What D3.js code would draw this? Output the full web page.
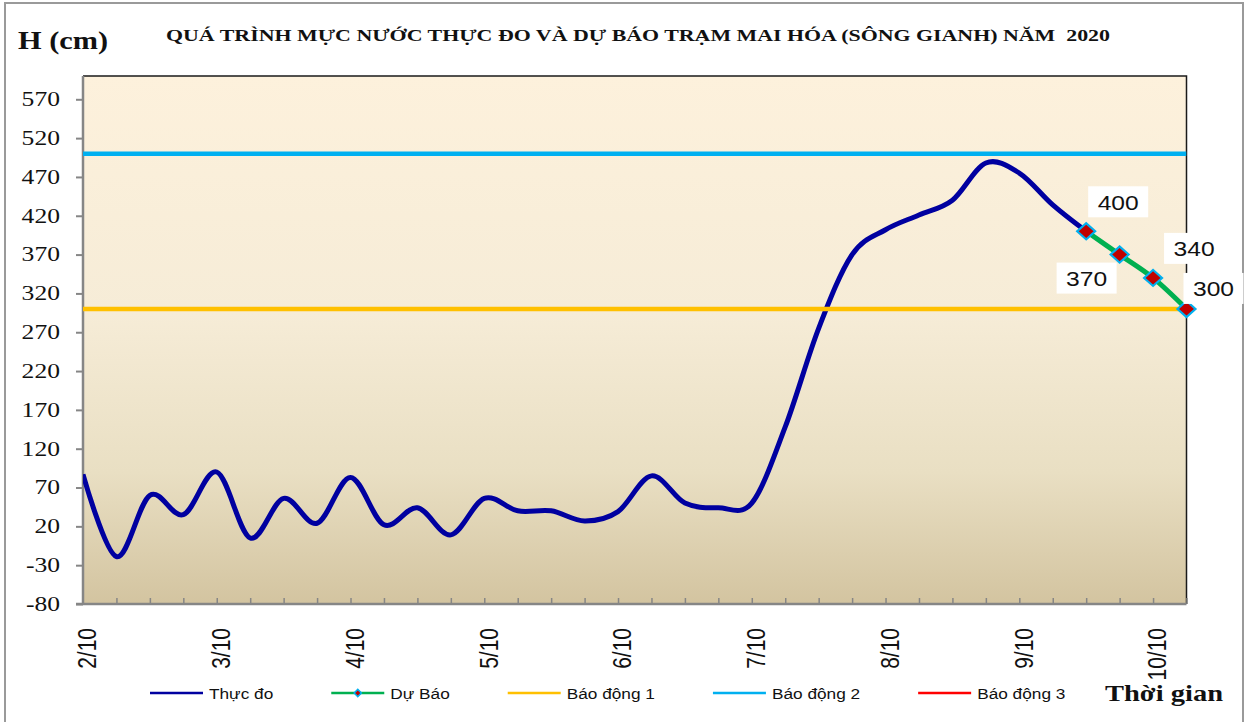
<!DOCTYPE html>
<html>
<head>
<meta charset="utf-8">
<script src="https://cdn.jsdelivr.net/npm/d3@7"></script>
<style>
  body { margin: 0; background: #fff; }
  svg { display: block; }
</style>
</head>
<body>
<div id="app"></div>
<script>
// water level at Mai Hoa station, one reading every 6 hours from 2/10
const dayLabels = ["2/10", "3/10", "4/10", "5/10", "6/10", "7/10", "8/10", "9/10", "10/10"];
const observed = [87, -19, 60, 35, 90, 5, 56, 24, 83, 22, 44, 9, 56, 40, 40, 27,
  39, 85, 50, 44, 50, 148, 275, 370, 402, 421, 440, 488, 475, 434, 400];
const forecast = [400, 370, 340, 300];
const alarmLevels = [300, 500, 650];
const alarmNames = ["Báo động 1", "Báo động 2", "Báo động 3"];
const seriesNames = ["Thực đo", "Dự Báo"];
const yTicks = [-80, -30, 20, 70, 120, 170, 220, 270, 320, 370, 420, 470, 520, 570];
const yDomain = [-80, 600];

const forecastStart = observed.length - 1;
const nPoints = forecastStart + forecast.length;

// 2. dimensions
const dimensions = {
  width: 1253,
  height: 722,
  margin: { top: 76, right: 66.5, bottom: 118, left: 83 }
};
dimensions.boundedWidth = dimensions.width - dimensions.margin.left - dimensions.margin.right;
dimensions.boundedHeight = dimensions.height - dimensions.margin.top - dimensions.margin.bottom;

const colors = {
  observed: "#0000a0",
  forecast: "#00b050",
  alarms: ["#ffc000", "#00b0f0", "#ff0000"],
  markerFill: "#c00000",
  markerStroke: "#00b0f0",
  axis: "#868686"
};

// 3. canvas
const svg = d3.select("#app")
  .append("svg")
  .attr("width", dimensions.width)
  .attr("height", dimensions.height);

// outer chart frame
svg.append("rect")
  .attr("x", 5).attr("y", 3)
  .attr("width", 1238).attr("height", 730)
  .attr("fill", "none")
  .attr("stroke", "#9a9a9a")
  .attr("stroke-width", 2);

const defs = svg.append("defs");
const grad = defs.append("linearGradient")
  .attr("id", "bg")
  .attr("x1", 0).attr("y1", 0).attr("x2", 0).attr("y2", 1);
[[0, "#fdf1dc"], [0.45, "#f6ecd7"], [0.75, "#e9dfc3"], [1, "#d3c4a0"]]
  .forEach(([o, c]) => grad.append("stop").attr("offset", o).attr("stop-color", c));

defs.append("clipPath").attr("id", "plotclip")
  .append("rect")
  .attr("x", dimensions.margin.left)
  .attr("y", dimensions.margin.top)
  .attr("width", dimensions.boundedWidth)
  .attr("height", dimensions.boundedHeight);

// 4. scales
const xScale = d3.scaleLinear()
  .domain([0, nPoints - 1])
  .range([dimensions.margin.left, dimensions.margin.left + dimensions.boundedWidth]);

const yScale = d3.scaleLinear()
  .domain(yDomain)
  .range([dimensions.margin.top + dimensions.boundedHeight, dimensions.margin.top]);

const x0 = xScale.range()[0], x1 = xScale.range()[1];
const yBottom = yScale.range()[0], yTop = yScale.range()[1];

svg.append("rect")
  .attr("x", x0).attr("y", yTop)
  .attr("width", x1 - x0).attr("height", yBottom - yTop)
  .attr("fill", "url(#bg)");

// top and right frame of the plot area
svg.append("path")
  .attr("d", `M${x0},${yTop}H${x1}V${yBottom}`)
  .attr("fill", "none")
  .attr("stroke", "#1a1a1a")
  .attr("stroke-width", 1.5);

// 6. axes
const yAxis = svg.append("g")
  .attr("transform", `translate(${x0},0)`)
  .call(d3.axisLeft(yScale).tickValues(yTicks).tickSize(7).tickSizeOuter(0)
    .tickPadding(16).tickFormat(d => String(d)));
yAxis.select(".domain").remove();
yAxis.selectAll(".tick line").attr("stroke", colors.axis).attr("stroke-width", 2);
yAxis.selectAll(".tick text")
  .attr("font-family", "'Liberation Serif', 'Times New Roman', serif")
  .attr("font-size", 20)
  .attr("fill", "#111")
  .attr("x", -23 / 1.28)
  .attr("transform", "scale(1.28,1)");

const xAxis = svg.append("g")
  .attr("transform", `translate(0,${yBottom})`)
  .call(d3.axisBottom(xScale).tickValues(d3.range(1, nPoints)).tickSize(-6).tickSizeOuter(0).tickFormat(""));
xAxis.select(".domain").remove();
xAxis.selectAll(".tick line").attr("stroke", colors.axis).attr("stroke-width", 1.5);

// axis lines
svg.append("line")
  .attr("x1", x0).attr("x2", x0).attr("y1", yTop).attr("y2", yBottom)
  .attr("stroke", colors.axis).attr("stroke-width", 2.5);
svg.append("line")
  .attr("x1", x0 - 7).attr("x2", x1).attr("y1", yBottom).attr("y2", yBottom)
  .attr("stroke", colors.axis).attr("stroke-width", 2.5);

// day labels, rotated
svg.append("g")
  .selectAll("text")
  .data(dayLabels)
  .join("text")
  .attr("transform", (d, i) => `translate(${xScale(i * 4) + 4},628) scale(1.22,1) rotate(-90)`)
  .attr("dy", "0.36em")
  .attr("text-anchor", "end")
  .attr("font-family", "'Liberation Sans', Arial, sans-serif")
  .attr("font-size", 21)
  .attr("fill", "#111")
  .text(d => d);

// 5. data
const line = d3.line()
  .x(d => xScale(d.i))
  .y(d => yScale(d.v))
  .curve(d3.curveCardinal);

const obsPts = observed.map((v, i) => ({ i, v }));
const fcPts = forecast.map((v, k) => ({ i: forecastStart + k, v }));

const plot = svg.append("g").attr("clip-path", "url(#plotclip)");

plot.append("path")
  .datum(obsPts)
  .attr("d", line)
  .attr("fill", "none")
  .attr("stroke", colors.observed)
  .attr("stroke-width", 5)
  .attr("stroke-linejoin", "round");

svg.append("path")
  .datum(fcPts)
  .attr("d", line)
  .attr("fill", "none")
  .attr("stroke", colors.forecast)
  .attr("stroke-width", 5);

alarmLevels.forEach((lvl, k) => {
  plot.append("path")
    .datum([{ i: 0, v: lvl }, { i: nPoints - 1, v: lvl }])
    .attr("d", d3.line().x(d => xScale(d.i)).y(d => yScale(d.v)))
    .attr("stroke", colors.alarms[k])
    .attr("stroke-width", 4.5);
});

const diamond = d3.symbol(d3.symbolSquare, 130)();
svg.append("g")
  .selectAll("path")
  .data(fcPts)
  .join("path")
  .attr("d", diamond)
  .attr("transform", d => `translate(${xScale(d.i)},${yScale(d.v)}) scale(1.12,1) rotate(45)`)
  .attr("fill", colors.markerFill)
  .attr("stroke", colors.markerStroke)
  .attr("stroke-width", 2);

// data labels for the forecast points
const labelOffsets = [[32, -29], [-33, 24], [41, -29], [27, -20]];
const labels = svg.append("g")
  .selectAll("g")
  .data(fcPts)
  .join("g")
  .attr("transform", (d, k) => `translate(${xScale(d.i) + labelOffsets[k][0]},${yScale(d.v) + labelOffsets[k][1]})`);
labels.append("rect")
  .attr("x", -30).attr("y", -16)
  .attr("width", 60).attr("height", 31)
  .attr("fill", "#fff");
labels.append("text")
  .attr("transform", "scale(1.2,1)")
  .attr("text-anchor", "middle")
  .attr("dy", "0.36em")
  .attr("font-family", "'Liberation Sans', Arial, sans-serif")
  .attr("font-size", 20.5)
  .attr("fill", "#111")
  .text(d => d.v);

// titles
svg.append("text")
  .attr("x", 166).attr("y", 41)
  .attr("textLength", 944)
  .attr("lengthAdjust", "spacingAndGlyphs")
  .style("white-space", "pre")
  .attr("font-family", "'Liberation Serif', 'Times New Roman', serif")
  .attr("font-weight", "bold")
  .attr("font-size", 17)
  .attr("fill", "#111")
  .text("QUÁ TRÌNH MỰC NƯỚC THỰC ĐO VÀ DỰ BÁO TRẠM MAI HÓA (SÔNG GIANH) NĂM  2020");

svg.append("text")
  .attr("x", 18).attr("y", 49)
  .attr("textLength", 90)
  .attr("lengthAdjust", "spacingAndGlyphs")
  .attr("font-family", "'Liberation Serif', 'Times New Roman', serif")
  .attr("font-weight", "bold")
  .attr("font-size", 26)
  .attr("fill", "#111")
  .text("H (cm)");

svg.append("text")
  .attr("x", 1105).attr("y", 701)
  .attr("textLength", 118)
  .attr("lengthAdjust", "spacingAndGlyphs")
  .attr("font-family", "'Liberation Serif', 'Times New Roman', serif")
  .attr("font-weight", "bold")
  .attr("font-size", 24)
  .attr("fill", "#111")
  .text("Thời gian");

// legend
const legendItems = [
  { name: seriesNames[0], color: colors.observed, marker: false },
  { name: seriesNames[1], color: colors.forecast, marker: true },
  ...alarmNames.map((n, k) => ({ name: n, color: colors.alarms[k], marker: false }))
];
const legend = svg.append("g");
let lx = 150;
const ly = 693;
legendItems.forEach(item => {
  const g = legend.append("g");
  g.append("line")
    .attr("x1", lx).attr("x2", lx + 53)
    .attr("y1", ly).attr("y2", ly)
    .attr("stroke", item.color)
    .attr("stroke-width", 2.5);
  if (item.marker) {
    g.append("path")
      .attr("d", d3.symbol(d3.symbolSquare, 26)())
      .attr("transform", `translate(${lx + 26.5},${ly}) rotate(45)`)
      .attr("fill", colors.markerFill)
      .attr("stroke", colors.markerStroke)
      .attr("stroke-width", 1.5);
  }
  const t = g.append("text")
    .attr("transform", `translate(${lx + 59},699) scale(1.15,1)`)
    .attr("font-family", "'Liberation Sans', Arial, sans-serif")
    .attr("font-size", 15)
    .attr("fill", "#111")
    .text(item.name);
  const w = t.node().getComputedTextLength() * 1.15;
  lx += 59 + w + 58;
});
</script>
</body>
</html>
